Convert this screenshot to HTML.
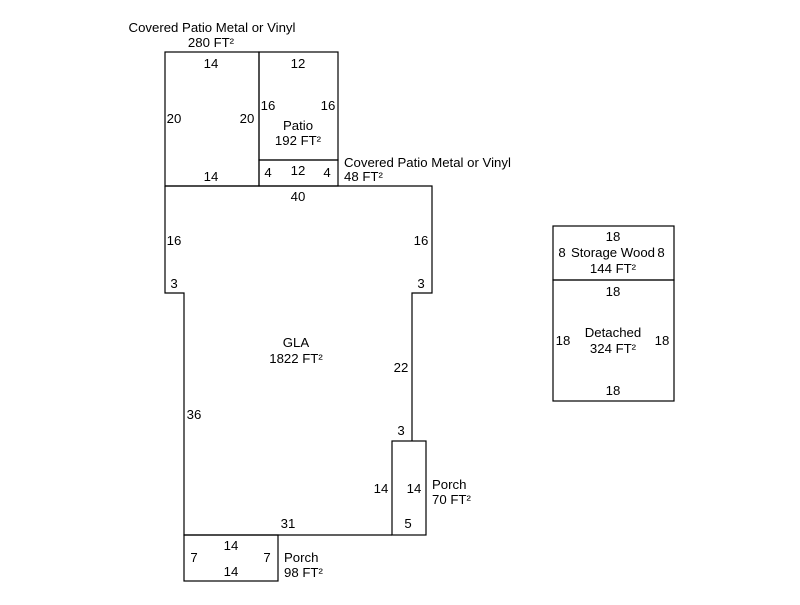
<!DOCTYPE html>
<html><head><meta charset="utf-8"><style>
html,body{margin:0;padding:0;background:#fff;}
svg text{font-family:"Liberation Sans",Arial,sans-serif;font-size:13.2px;fill:#000;}
</style></head><body>
<svg width="800" height="600" viewBox="0 0 800 600" xmlns="http://www.w3.org/2000/svg">
<g fill="none" stroke="#000" stroke-width="1.2">
<rect x="165" y="52" width="94" height="134"/>
<rect x="259" y="52" width="79" height="108"/>
<rect x="259" y="160" width="79" height="26"/>
<path d="M165 186 H432 V293 H412 V441"/>
<path d="M165 186 V293 H184 V535 H392"/>
<rect x="392" y="441" width="34" height="94"/>
<rect x="184" y="535" width="94" height="46"/>
<rect x="553" y="226" width="121" height="54"/>
<rect x="553" y="280" width="121" height="121"/>
</g>
<g text-anchor="middle">
<text x="212" y="32">Covered Patio Metal or Vinyl</text>
<text x="211" y="47">280 FT²</text>
<text x="211" y="68">14</text>
<text x="298" y="68">12</text>
<text x="174" y="123">20</text>
<text x="247" y="123">20</text>
<text x="268" y="110">16</text>
<text x="328" y="110">16</text>
<text x="298" y="130">Patio</text>
<text x="298" y="145">192 FT²</text>
<text x="211" y="181">14</text>
<text x="268" y="177">4</text>
<text x="298" y="175">12</text>
<text x="327" y="177">4</text>
<text x="298" y="201">40</text>
<text x="174" y="245">16</text>
<text x="421" y="245">16</text>
<text x="174" y="288">3</text>
<text x="421" y="288">3</text>
<text x="296" y="347">GLA</text>
<text x="296" y="363">1822 FT²</text>
<text x="401" y="372">22</text>
<text x="194" y="419">36</text>
<text x="401" y="435">3</text>
<text x="381" y="493">14</text>
<text x="414" y="493">14</text>
<text x="408" y="528">5</text>
<text x="288" y="528">31</text>
<text x="231" y="550">14</text>
<text x="194" y="562">7</text>
<text x="267" y="562">7</text>
<text x="231" y="576">14</text>
<text x="613" y="241">18</text>
<text x="562" y="257">8</text>
<text x="613" y="257">Storage Wood</text>
<text x="661" y="257">8</text>
<text x="613" y="273">144 FT²</text>
<text x="613" y="296">18</text>
<text x="613" y="337">Detached</text>
<text x="613" y="353">324 FT²</text>
<text x="563" y="345">18</text>
<text x="662" y="345">18</text>
<text x="613" y="395">18</text>
</g>
<text x="344" y="167">Covered Patio Metal or Vinyl</text>
<text x="344" y="181">48 FT²</text>
<text x="432" y="489">Porch</text>
<text x="432" y="504">70 FT²</text>
<text x="284" y="562">Porch</text>
<text x="284" y="577">98 FT²</text>
</svg>
</body></html>
